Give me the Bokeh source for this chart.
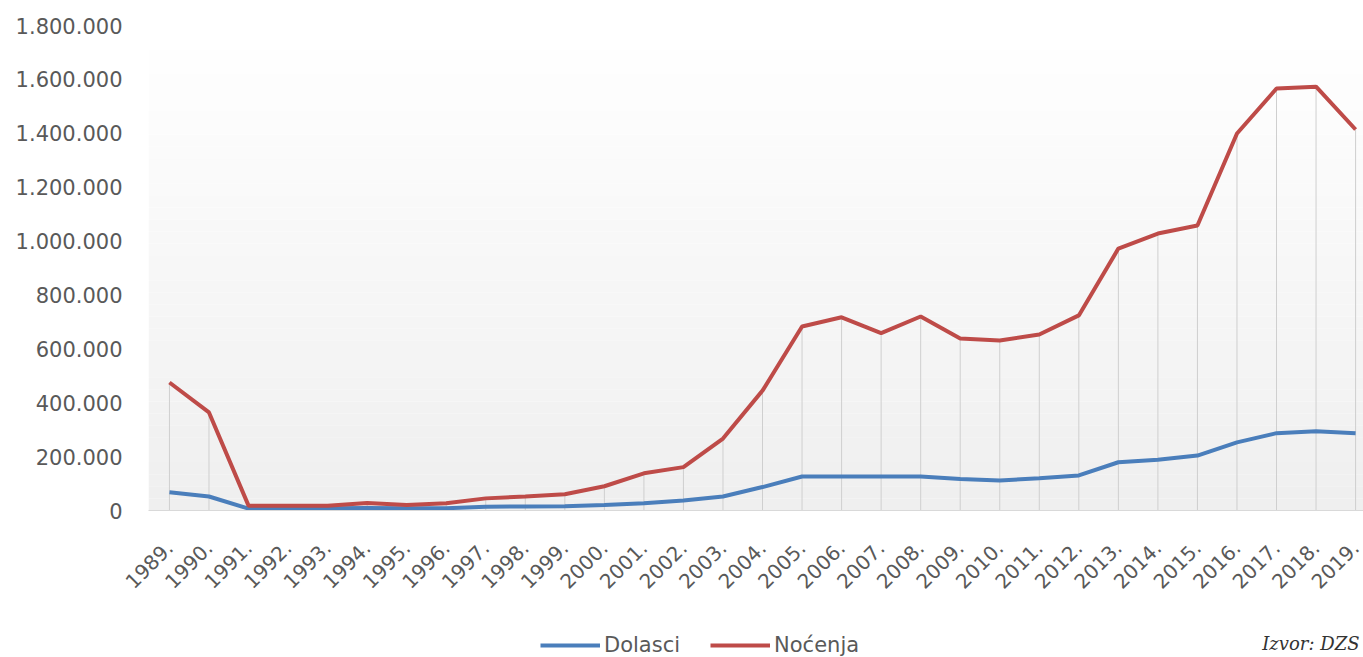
import math
from bokeh.plotting import figure
from bokeh.layouts import column
from bokeh.models import (Range1d, FixedTicker, BoxAnnotation, Legend, LegendItem,
                          Label, ColumnDataSource)
from bokeh.embed import file_html
from bokeh.resources import INLINE

years = list(range(1989, 2020))
dolasci = [68000, 52000, 7000, 8000, 8000, 9000, 8000, 8000, 14000, 15000, 16000,
           20000, 27000, 37000, 52000, 87000, 126000, 126000, 126000, 126000, 117000,
           111000, 120000, 130000, 179000, 188000, 204000, 253000, 287000, 294000, 287000]
nocenja = [475000, 364000, 18000, 18000, 18000, 28000, 20000, 27000, 45000, 52000, 60000,
           90000, 138000, 161000, 267000, 445000, 683000, 717000, 658000, 720000, 638000,
           631000, 653000, 724000, 972000, 1028000, 1058000, 1399000, 1566000, 1573000, 1414000]
y_ticks = [0, 200000, 400000, 600000, 800000, 1000000, 1200000, 1400000, 1600000, 1800000]
y_tick_labels = ["0", "200.000", "400.000", "600.000", "800.000", "1.000.000",
                 "1.200.000", "1.400.000", "1.600.000", "1.800.000"]
x_tick_labels = [f"{y}." for y in years]
series_names = ["Dolasci", "Noćenja"]
source_text = "Izvor: DZS"

BLUE = "#4a7ebb"
RED = "#be4b48"
TXT = "#595959"
FONT = "DejaVu Sans"

W = 1363
LEFT = 148
p = figure(width=W, height=615, output_backend="svg", toolbar_location=None,
           x_range=Range1d(1988.47, 2019.2), y_range=Range1d(0, 1800000),
           min_border_left=LEFT, min_border_right=0, min_border_top=25,
           min_border_bottom=105)
p.outline_line_color = None
p.background_fill_color = "white"
p.border_fill_color = "white"
p.xgrid.grid_line_color = None
p.ygrid.grid_line_color = None

# vertical gradient background of plot area (white top -> light gray bottom)
n = 40
top_val = 1800000
for i in range(n):
    b = top_val * i / n
    t = top_val * (i + 1) / n
    fr = i / (n - 1)
    c = int(round(239 + (255 - 239) * fr))
    p.add_layout(BoxAnnotation(bottom=b, top=t, fill_color=f"#{c:02x}{c:02x}{c:02x}",
                               fill_alpha=1.0, line_color=None, level="underlay"))

# drop lines
src = ColumnDataSource(dict(x=years, y0=[0] * len(years), d=dolasci, n=nocenja))
p.segment(x0="x", y0="y0", x1="x", y1="n", source=src, line_color="#cfcfcf", line_width=1)

r_d = p.line("x", "d", source=src, line_color=BLUE, line_width=4)
r_n = p.line("x", "n", source=src, line_color=RED, line_width=4)

# axes
xa = p.xaxis[0]
xa.ticker = FixedTicker(ticks=years)
xa.major_label_overrides = {y: l for y, l in zip(years, x_tick_labels)}
xa.major_label_orientation = math.pi / 4
xa.major_label_text_font = FONT
xa.major_label_text_font_size = "20px"
xa.major_label_text_color = TXT
xa.major_tick_line_color = None
xa.major_tick_out = 0
xa.major_tick_in = 0
xa.minor_tick_line_color = None
xa.axis_line_color = "#d9d9d9"
xa.axis_line_width = 1
xa.major_label_standoff = 34

ya = p.yaxis[0]
ya.ticker = FixedTicker(ticks=y_ticks)
ya.major_label_overrides = {v: l for v, l in zip(y_ticks, y_tick_labels)}
ya.major_label_text_font = FONT
ya.major_label_text_font_size = "21px"
ya.major_label_text_color = TXT
ya.major_tick_line_color = None
ya.major_tick_out = 0
ya.major_tick_in = 0
ya.minor_tick_line_color = None
ya.axis_line_color = None
ya.major_label_standoff = 26

# footer with legend and source note (its frame is aligned with the main frame)
f = figure(width=W, height=42, output_backend="svg", toolbar_location=None,
           x_range=Range1d(0, 1), y_range=Range1d(0, 1), min_border=0)
f.axis.visible = False
f.grid.visible = False
f.outline_line_color = None
nan = float("nan")
l_d = f.line(x=[nan], y=[nan], line_color=BLUE, line_width=4)
l_n = f.line(x=[nan], y=[nan], line_color=RED, line_width=4)
legend = Legend(items=[LegendItem(label=series_names[0], renderers=[l_d]),
                       LegendItem(label=series_names[1], renderers=[l_n])],
                location=(540 - LEFT, 0), orientation="horizontal",
                background_fill_alpha=0, border_line_color=None,
                label_text_font=FONT, label_text_font_size="21px",
                label_text_color=TXT, glyph_width=60, glyph_height=22,
                label_standoff=4, spacing=30, padding=0, margin=0)
f.add_layout(legend, "center")
f.add_layout(Label(x=W - LEFT - 4, y=4, x_units="screen", y_units="screen",
                   text=source_text, text_align="right", text_font="DejaVu Serif",
                   text_font_style="italic", text_font_size="18px",
                   text_color="#333333"))

open("out.html", "w").write(file_html(column(p, f, spacing=0), INLINE))
